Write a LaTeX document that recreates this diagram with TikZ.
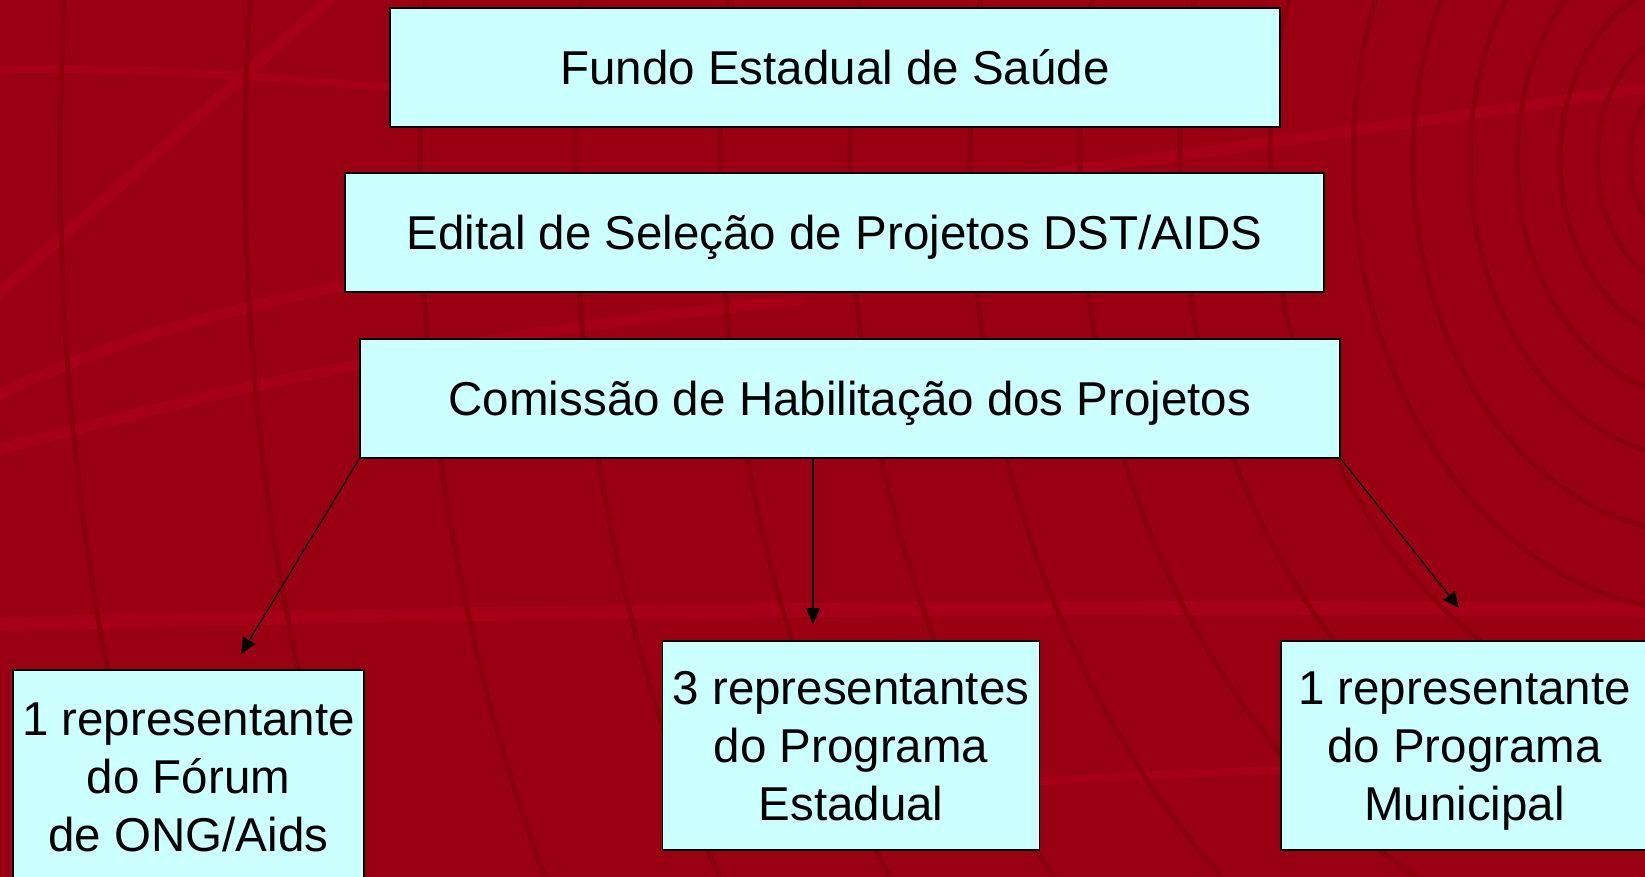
\documentclass[tikz,border=0pt]{standalone}
\usepackage{fontspec}
\setmainfont{Liberation Sans}
\usetikzlibrary{arrows.meta}
\definecolor{bgred}{RGB}{153,0,17}
\definecolor{ringred}{RGB}{137,0,10}
\definecolor{streakred}{RGB}{166,0,24}
\definecolor{boxfill}{RGB}{204,255,255}
\newcommand\bxs{\rule[-12pt]{0pt}{58pt}}
\begin{document}
\begin{tikzpicture}[x=1pt,y=-1pt,
  box/.style={draw=black, line width=1.5pt, fill=boxfill, inner sep=0pt,
    align=center, text=black, font=\fontsize{47.5}{58}\selectfont},
  conn/.style={draw=black, line width=1.3pt, -{Triangle[length=16pt,width=14pt]}},
  streak/.style={draw=streakred, line width=11pt, line cap=round},
  ring/.style={draw=ringred, line width=5pt}]
\useasboundingbox (0,0) rectangle (1645,877);
\fill[bgred] (0,0) rectangle (1645,877);
\begin{scope}
\clip (0,0) rectangle (1645,877);
% light streaks
\draw[streak] (-20,310) -- (340,-10);
\draw[streak] (-20,405) .. controls (250,260) and (700,230) .. (1700,80);
\draw[streak] (-20,455) .. controls (250,380) and (500,330) .. (800,300);
\draw[streak, line width=8pt] (-20,70) .. controls (150,65) and (300,80) .. (420,90);
\draw[streak, line width=14pt] (-20,625) .. controls (500,610) and (1100,605) .. (1700,610);
\draw[streak, line width=8pt] (900,790) .. controls (1200,770) and (1450,760) .. (1700,770);
% rings
\foreach \a in {1640,1455,1280,1125,980,850,730,620,520,430,347,287,230,183,140,103,70}{
  \pgfmathsetmacro{\b}{1.3*\a}
  \draw[ring] (1700,160) ellipse [x radius=\a pt, y radius=\b pt];
}
% nodes
\node[box, minimum width=890, minimum height=119] (fundo) at (835,67.5) {\bxs Fundo Estadual de Saúde};
\node[box, minimum width=979, minimum height=119] (edital) at (834.5,232.5) {\bxs Edital de Seleção de Projetos DST/AIDS};
\node[box, minimum width=980, minimum height=119] (comissao) at (850,398.5) {\bxs Comissão de Habilitação dos Projetos};
\node[box, minimum width=351, minimum height=212] (ong) at (188.5,776) {\bxs 1 representante\\\bxs do Fórum\\\bxs de ONG/Aids};
\node[box, minimum width=377, minimum height=209] (estadual) at (851,745.5) {\bxs 3 representantes\\\bxs do Programa\\\bxs Estadual};
\node[box, minimum width=367, minimum height=209] (municipal) at (1464.5,745.5) {\bxs 1 representante\\\bxs do Programa\\\bxs Municipal};
% connectors
\coordinate (t1) at (241,654);
\coordinate (t2) at (813,624);
\coordinate (t3) at (1459,608);
\draw[conn] (comissao.south west) -- (t1);
\draw[conn] ([xshift=-37pt]comissao.south) -- (t2);
\draw[conn] (comissao.south east) -- (t3);
\end{scope}
\end{tikzpicture}
\end{document}
